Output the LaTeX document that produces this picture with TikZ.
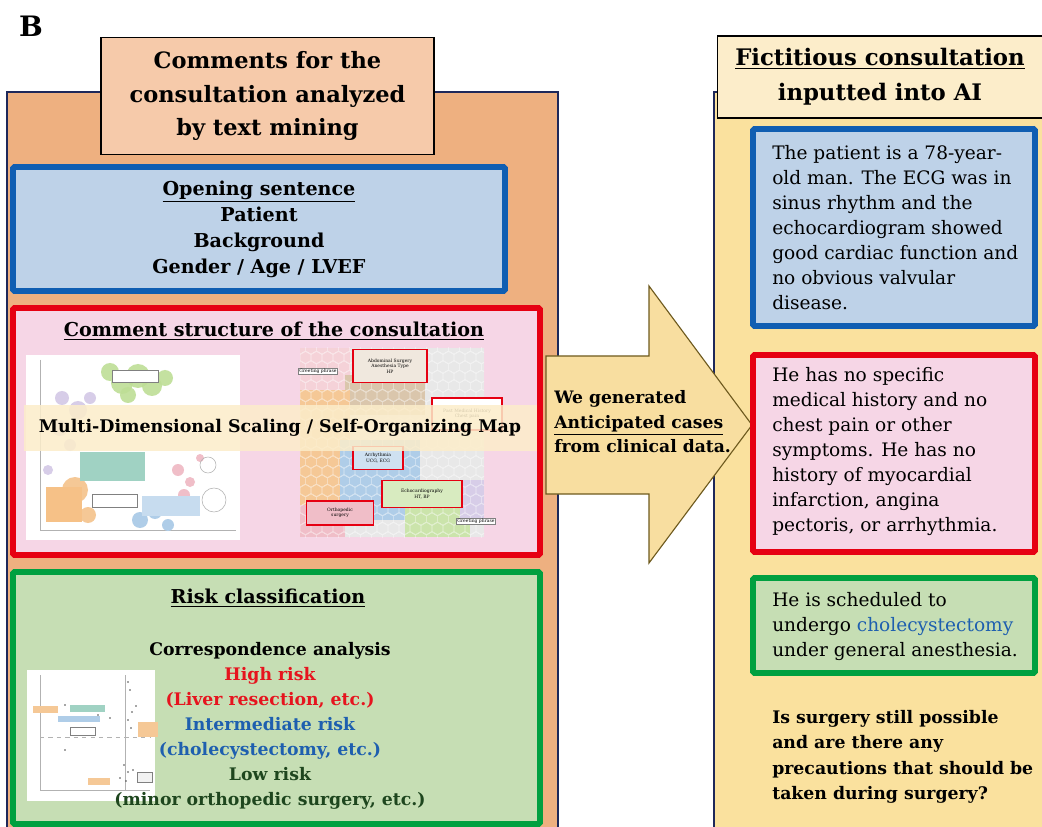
\documentclass[tikz,border=0pt]{standalone}
\usepackage{fontspec}
\setmainfont{DejaVu Serif}
\usepackage{tikz}

\definecolor{panelorange}{RGB}{238,176,128}
\definecolor{titlepeach}{RGB}{246,202,170}
\definecolor{panelyellow}{RGB}{250,225,158}
\definecolor{titlecream}{RGB}{252,237,202}
\definecolor{navyline}{RGB}{30,40,90}
\definecolor{bluebox}{RGB}{16,94,178}
\definecolor{bluefill}{RGB}{190,210,232}
\definecolor{redbox}{RGB}{230,0,18}
\definecolor{pinkfill}{RGB}{246,214,230}
\definecolor{greenbox}{RGB}{0,160,64}
\definecolor{greenfill}{RGB}{198,222,180}
\definecolor{arrowfill}{RGB}{248,222,160}
\definecolor{arrowline}{RGB}{110,90,30}
\definecolor{highred}{RGB}{230,20,30}
\definecolor{midblue}{RGB}{30,95,175}
\definecolor{lowgreen}{RGB}{30,70,30}
% map colours
\definecolor{mapgreen}{RGB}{190,222,150}
\definecolor{mappurple}{RGB}{215,205,232}
\definecolor{mappink}{RGB}{240,190,200}
\definecolor{mapblue}{RGB}{175,205,232}
\definecolor{maporange}{RGB}{245,200,150}
\definecolor{mapteal}{RGB}{160,210,195}
\definecolor{maptan}{RGB}{218,198,172}
\definecolor{mapgray}{RGB}{232,232,232}

\tikzset{
  blockbox/.style={line width=4pt, rounded corners=1pt},
  headtxt/.style={font=\fontsize{13.6}{18.5}\selectfont\bfseries, align=center, inner sep=0pt},
  bodytxt/.style={font=\fontsize{13.2}{17.8}\selectfont, align=left, anchor=north west, inner sep=0pt},
  tinylabel/.style={font=\fontsize{3.2}{3.8}\selectfont, align=center, inner sep=0.5pt}
}

\begin{document}
\begin{tikzpicture}[x=0.025cm,y=-0.025cm]
\useasboundingbox (0,0) rectangle (1042,827);

% panel letter
\node[font=\fontsize{20}{24}\selectfont\bfseries] (letter) at (31,26) {B};

% left panel (text mining)
\fill[panelorange] (7,92) rectangle (558,827);
\draw[navyline, line width=0.8pt] (7,827) -- (7,92) -- (558,92) -- (558,827);
\node[draw=black, fill=titlepeach, line width=0.8pt, minimum width=333*0.025cm, minimum height=117*0.025cm,
      font=\fontsize{16}{24}\selectfont\bfseries, align=center] (mintitle) at (267.5,96)
      {Comments for the\\consultation analyzed\\by text mining};

% right panel (AI input)
\fill[panelyellow] (714,92) rectangle (1042,827);
\draw[navyline, line width=0.8pt] (714,827) -- (714,92) -- (1042,92);
\node[draw=black, fill=titlecream, line width=0.8pt, minimum width=325*0.025cm, minimum height=82*0.025cm,
      font=\fontsize{16.2}{25}\selectfont\bfseries, align=center] (aititle) at (880,77)
      {\underline{Fictitious consultation}\\inputted into AI};

% opening sentence
\draw[blockbox, draw=bluebox, fill=bluefill] (13,167) rectangle (505,291);
\node[headtxt] (opening) at (259,229)
  {\underline{Opening sentence}\\Patient\\Background\\Gender / Age / LVEF};

% comment structure
\draw[blockbox, draw=redbox, fill=pinkfill] (13,308) rectangle (540,555);
\node[headtxt] (structure) at (274,331)
  {\underline{Comment structure of the consultation}};

% MDS plot
\fill[white] (26,355) rectangle (240,540);
\draw[gray!60, line width=0.4pt] (40,360) -- (40,530) -- (236,530);
\foreach \cx/\cy/\rr in {110/372/9, 122/383/11, 138/376/12, 152/386/10, 165/378/8, 128/395/8}
  \fill[mapgreen, opacity=0.9] (\cx,\cy) circle (\rr);
\foreach \cx/\cy/\rr in {62/398/7, 78/410/9, 90/398/6, 60/428/8, 70/445/6, 48/470/5}
  \fill[mappurple] (\cx,\cy) circle (\rr);
\foreach \cx/\cy/\rr in {178/470/6, 190/482/5, 184/495/6, 200/458/4}
  \fill[mappink] (\cx,\cy) circle (\rr);
\foreach \cx/\cy/\rr in {140/520/8, 155/512/7, 168/525/6, 130/470/9}
  \fill[mapblue] (\cx,\cy) circle (\rr);
\foreach \cx/\cy/\rr in {75/490/13, 62/505/9, 88/515/8}
  \fill[maporange] (\cx,\cy) circle (\rr);
\draw[gray!60] (208,465) circle (8) (214,500) circle (12);
\fill[mapteal] (80,452) rectangle (145,481);
\fill[maporange!90!orange] (46,487) rectangle (82,522);
\fill[mapblue!70] (142,496) rectangle (200,516);
\draw[gray, fill=white] (112,370) rectangle (158,382);
\draw[gray, fill=white] (92,494) rectangle (137,507);

% SOM map
\begin{scope}
  \clip (300,348) rectangle (484,537);
  \fill[mapgray] (300,348) rectangle (484,537);
  \fill[mappink!70] (300,348) rectangle (350,395);
  \fill[maptan] (345,375) rectangle (425,415);
  \fill[maporange] (300,390) rectangle (350,505);
  \fill[mapblue] (340,440) rectangle (420,520);
  \fill[mapgreen!80] (405,490) rectangle (470,537);
  \fill[mappink] (300,505) rectangle (345,537);
  \fill[mappurple] (460,480) rectangle (484,525);
  \foreach \r in {0,...,20} {
    \foreach \c in {0,...,17} {
      \pgfmathsetmacro{\hx}{300+\c*11+mod(\r,2)*5.5}
      \pgfmathsetmacro{\hy}{348+\r*9.5}
      \draw[white, opacity=0.6, line width=0.25pt] (\hx,\hy) +(30:6) -- +(90:6) -- +(150:6) -- +(210:6) -- +(270:6) -- +(330:6) -- cycle;
    }
  }
\end{scope}
\node[tinylabel, draw=gray, fill=white] (somgreet) at (318,371) {Greeting phrase};
\node[tinylabel, draw=redbox, line width=0.8pt, fill=maptan!40, minimum width=74*0.025cm, minimum height=33*0.025cm] (somabd) at (390,366)
  {Abdominal Surgery\\Anesthesia Type\\HP};
\node[tinylabel, draw=redbox, line width=0.8pt, fill=white, minimum width=70*0.025cm, minimum height=32*0.025cm] (sompmh) at (467,414)
  {Past Medical History\\Chest pain};
\node[tinylabel, draw=redbox, line width=0.8pt, fill=mapblue!60, minimum width=50*0.025cm, minimum height=23*0.025cm] (somarr) at (378,458)
  {Arrhythmia\\UCG, ECG};
\node[tinylabel, draw=redbox, line width=0.8pt, fill=mapgreen!60, minimum width=80*0.025cm, minimum height=27*0.025cm] (somecho) at (422,494)
  {Echocardiography\\HT, BP};
\node[tinylabel, draw=redbox, line width=0.8pt, fill=mappink, minimum width=67*0.025cm, minimum height=24*0.025cm] (somortho) at (340,513)
  {Orthopedic\\surgery};
\node[tinylabel, draw=gray, fill=white] (somgreet2) at (476,521) {Greeting phrase};

% banner over both maps
\fill[titlecream, opacity=0.85] (24,405) rectangle (537,451);
\node[font=\fontsize{12.4}{16}\selectfont\bfseries, inner sep=0pt] (mapbanner) at (280,428)
  {Multi-Dimensional Scaling / Self-Organizing Map};

% risk classification
\draw[blockbox, draw=greenbox, fill=greenfill] (13,572) rectangle (540,824);
\node[headtxt] (risk) at (268,598) {\underline{Risk classification}};
\fill[white] (27,670) rectangle (155,801);
\draw[gray!60, line width=0.3pt] (40,675) -- (40,790) -- (150,790);
\draw[gray!60, line width=0.3pt, dashed] (40,737) -- (150,737);
\draw[gray!60, line width=0.3pt] (125,675) -- (125,790);
\fill[maporange] (33,706) rectangle (58,713);
\fill[mapteal] (70,705) rectangle (105,712);
\fill[mapblue] (58,716) rectangle (100,722);
\draw[gray, fill=white] (70,727) rectangle (95,735);
\fill[maporange] (138,722) rectangle (158,737);
\fill[maporange] (88,778) rectangle (110,785);
\draw[gray, fill=gray!10] (137,772) rectangle (152,782);
\foreach \px/\py in {128/682, 130/690, 136/706, 132/712, 128/720, 131/728, 124/765, 128/772, 120/778, 126/781, 133/770, 65/705, 98/715, 110/718, 65/750}
  \fill[black!70] (\px,\py) circle (0.9);
\node[headtxt, font=\fontsize{12.3}{17.8}\selectfont\bfseries, align=center] (riskgrades) at (270,726)
  {Correspondence analysis\\
   \textcolor{highred}{High risk}\\
   \textcolor{highred}{(Liver resection, etc.)}\\
   \textcolor{midblue}{Intermediate risk}\\
   \textcolor{midblue}{(cholecystectomy, etc.)}\\
   \textcolor{lowgreen}{Low risk}\\
   \textcolor{lowgreen}{(minor orthopedic surgery, etc.)}};

% big arrow
\draw[fill=arrowfill, draw=arrowline, line width=0.8pt]
  (546,356) -- (649,356) -- (649,286) -- (752,425) -- (649,563) -- (649,494) -- (546,494) -- cycle;
\node[font=\fontsize{12.2}{17.4}\selectfont\bfseries, align=left, anchor=west, inner sep=0pt] (generated) at (554,422)
  {We generated\\\underline{Anticipated cases}\\from clinical data.};

% fictitious consultation boxes
\draw[blockbox, draw=bluebox, fill=bluefill] (753,129) rectangle (1035,326);
\node[bodytxt] (patient) at (772,145)
  {The patient is a 78-year-\\old man. The ECG was in\\sinus rhythm and the\\echocardiogram showed\\good cardiac function and\\no obvious valvular\\disease.};
\draw[blockbox, draw=redbox, fill=pinkfill] (753,355) rectangle (1035,552);
\node[bodytxt] (history) at (772,367)
  {He has no specific\\medical history and no\\chest pain or other\\symptoms. He has no\\history of myocardial\\infarction, angina\\pectoris, or arrhythmia.};
\draw[blockbox, draw=greenbox, fill=greenfill] (753,578) rectangle (1035,673);
\node[bodytxt] (surgery) at (772,592)
  {He is scheduled to\\undergo \textcolor{midblue}{cholecystectomy}\\under general anesthesia.};
\node[bodytxt, font=\fontsize{12.3}{18}\selectfont\bfseries] (question) at (772,710)
  {Is surgery still possible\\and are there any\\precautions that should be\\taken during surgery?};

\end{tikzpicture}
\end{document}
